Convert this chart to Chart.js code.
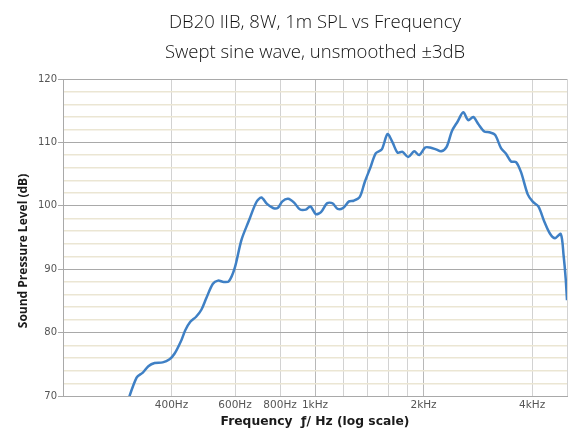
<!DOCTYPE html>
<html>
<head>
<meta charset="utf-8">
<script src="https://cdn.jsdelivr.net/npm/chart.js@4"></script>
<style>
  html, body { margin: 0; padding: 0; background: #fff; }
  #wrap { width: 576px; height: 429px; }
</style>
</head>
<body>
<div id="wrap"><canvas id="chart" width="576" height="429"></canvas></div>
<script>
// SPL response (Hz, dB)
const FREQ_HZ = [
  300, 320, 333, 345, 359, 378, 395, 408, 426, 437, 451, 468, 484, 500, 521,
  538, 558, 577, 599, 625, 655, 688, 710, 736, 765, 788, 812, 842, 875, 907,
  943, 971, 1005, 1039, 1080, 1118, 1156, 1196, 1243, 1281, 1331, 1375, 1426,
  1475, 1532, 1589, 1641, 1694, 1749, 1813, 1884, 1945, 2021, 2083, 2165,
  2239, 2318, 2398, 2487, 2578, 2661, 2748, 2837, 2948, 3044, 3157, 3280,
  3387, 3497, 3611, 3728, 3891, 4017, 4164, 4327, 4487, 4633, 4805, 4892,
  4957, 5000
];
const SPL_DB = [
  68.6, 72.9, 73.7, 74.7, 75.2, 75.3, 75.8, 76.7, 78.8, 80.4, 81.7, 82.5, 83.6, 85.5, 87.7,
  88.2, 88.0, 88.1, 90.2, 94.6, 97.6, 100.6, 101.3, 100.3, 99.65, 99.65, 100.7, 101.1, 100.5, 99.45,
  99.4, 99.9, 98.7, 99.0, 100.4, 100.4, 99.5, 99.65, 100.7, 100.8, 101.4, 103.8, 106.1,
  108.3, 108.9, 111.3, 110.0, 108.4, 108.5, 107.7, 108.6, 108.0, 109.2, 109.2, 108.9,
  108.6, 109.3, 111.8, 113.3, 114.75, 113.5, 114.0, 112.9, 111.7, 111.6, 111.2, 109.1,
  108.2, 107.0, 106.9, 105.3, 101.8, 100.65, 99.9, 97.5, 95.6, 94.9, 95.55, 92.2,
  88.6, 85.1
];

// Axis ticks
const X_TICKS = [200, 400, 600, 800, 1000, 1200, 1400, 1600, 1800, 2000, 4000, 5000];
const X_TICK_LABELS = ['', '400Hz', '600Hz', '800Hz', '1kHz', '', '', '', '', '2kHz', '4kHz', ''];
const Y_MIN = 70;
const Y_MAX = 120;
const Y_STEP = 2;

const TITLE_LINES = ['DB20 IIB, 8W, 1m SPL vs Frequency', 'Swept sine wave, unsmoothed ±3dB'];
const X_TITLE = 'Frequency  ƒ/ Hz (log scale)';
const Y_TITLE = 'Sound Pressure Level (dB)';

const GRID_MAJOR = '#a9a9a9';
const GRID_MINOR = '#ebe6d3';

// two-line title over the plot area, plus the y title (sits a bit low in the original)
const textPlugin = {
    id: 'extraText',
    afterDraw(chart) {
        const { ctx, chartArea } = chart;
        const cx = (chartArea.left + chartArea.right) / 2;
        ctx.save();
        ctx.fillStyle = '#111111';
        ctx.font = '300 18.5px "Open Sans"';
        ctx.textAlign = 'center';
        ctx.textBaseline = 'middle';
        TITLE_LINES.forEach((t, i) => ctx.fillText(t, cx, 23 + i * 30));

        ctx.translate(24, 251);
        ctx.rotate(-Math.PI / 2);
        ctx.fillStyle = '#1a1a1a';
        ctx.font = 'bold 12px "Open Sans"';
        ctx.fillText(Y_TITLE, 0, 0);
        ctx.restore();
    }
};

const ctx = document.getElementById('chart').getContext('2d');

new Chart(ctx, {
    type: 'line',
    data: {
        datasets: [{
            data: FREQ_HZ.map((f, i) => ({ x: f, y: SPL_DB[i] })),
            borderColor: '#3f80c5',
            borderWidth: 2.5,
            pointRadius: 0,
            fill: false,
            tension: 0.3
        }]
    },
    options: {
        responsive: false,
        animation: false,
        layout: { padding: { top: 79, right: 9, left: 0, bottom: 0 } },
        plugins: {
            legend: { display: false },
            tooltip: { enabled: false },
            title: { display: false }
        },
        scales: {
            x: {
                type: 'logarithmic',
                min: 200,
                max: 5000,
                afterBuildTicks: s => { s.ticks = X_TICKS.map(v => ({ value: v })); },
                afterFit: s => { s.height = 33; s.paddingLeft = 0; s.paddingRight = 0; },
                grid: {
                    drawTicks: false,
                    color: c => {
                        const v = c.tick && c.tick.value;
                        return (v === 1000 || v === 2000) ? '#b8b8b8' : '#d2d2d2';
                    },
                    lineWidth: 1
                },
                border: { color: GRID_MAJOR, width: 1 },
                ticks: {
                    autoSkip: false,
                    maxRotation: 0,
                    padding: 3,
                    color: '#555555',
                    font: { family: 'DejaVu Sans', size: 10.5 },
                    callback: (v, i) => X_TICK_LABELS[i]
                },
                title: {
                    display: true,
                    text: X_TITLE,
                    color: '#1a1a1a',
                    font: { family: 'DejaVu Sans', size: 12.3, weight: 'bold' },
                    padding: { top: 0, bottom: 0 }
                }
            },
            y: {
                min: Y_MIN,
                max: Y_MAX,
                afterFit: s => { s.width = 63; s.paddingTop = 0; s.paddingBottom = 0; },
                grid: {
                    tickLength: 5,
                    color: c => (c.tick && c.tick.value % 10 === 0) ? GRID_MAJOR : GRID_MINOR,
                    tickColor: c => (c.tick && c.tick.value % 10 === 0) ? GRID_MAJOR : 'rgba(0,0,0,0)',
                    lineWidth: c => (c.tick && c.tick.value % 10 === 0) ? 1 : 1.5
                },
                border: { color: GRID_MAJOR, width: 1 },
                ticks: {
                    stepSize: Y_STEP,
                    autoSkip: false,
                    padding: 1,
                    color: '#555555',
                    font: { family: 'DejaVu Sans', size: 10 },
                    callback: v => (v % 10 === 0 ? v : '')
                }
            }
        }
    },
    plugins: [textPlugin]
});
</script>
</body>
</html>
